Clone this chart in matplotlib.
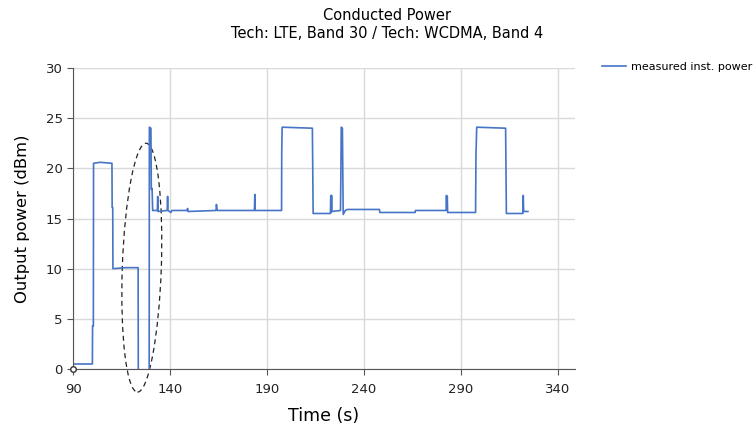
import matplotlib
matplotlib.use("Agg")
from matplotlib import pyplot as plt
from matplotlib.patches import Ellipse
from matplotlib.transforms import ScaledTranslation

# trace (time in s, power in dBm)
time_s = [90, 100.0, 100.1, 100.5, 100.6, 104, 110.1, 110.2, 110.5, 110.6, 117, 123.6,
          123.7, 129.3, 129.4, 130.2, 130.4, 130.8, 131.1, 133.5, 133.7, 133.9, 138.6,
          138.8, 139.0, 140.5, 141, 148.9, 149.1, 149.4, 163.8, 164.0, 164.4, 183.6,
          183.8, 184.0, 197.6, 197.7, 197.9, 213.5, 213.9, 222.8, 223.0, 223.2, 223.4,
          223.6, 228.0, 228.2, 228.4, 229.0, 229.4, 230.5, 231.5, 248.1, 248.3, 266.5,
          266.7, 282.5, 282.7, 282.9, 283.1, 283.3, 297.7, 297.9, 298.3, 313.2, 313.6,
          322.1, 322.3, 322.5, 324.7]
power_dbm = [0.5, 0.5, 4.3, 4.3, 20.5, 20.6, 20.5, 16.1, 16.1, 10.0, 10.1, 10.1,
             -2, -2, 24.1, 24.0, 17.9, 18.0, 15.8, 15.8, 17.2, 15.7, 15.8,
             17.2, 15.8, 15.6, 15.8, 15.8, 16.0, 15.7, 15.8, 16.4, 15.8, 15.8,
             17.4, 15.8, 15.8, 21.7, 24.1, 24.0, 15.5, 15.5, 17.3, 15.6, 17.3,
             15.7, 15.8, 19.2, 24.1, 24.0, 15.4, 15.8, 15.9, 15.9, 15.6, 15.6,
             15.8, 15.8, 17.3, 15.9, 17.2, 15.6, 15.6, 21.3, 24.1, 24.0, 15.5,
             15.5, 17.3, 15.7, 15.7]

x_ticks = [90, 140, 190, 240, 290, 340]
y_ticks = [0, 5, 10, 15, 20, 25, 30]

fig = plt.figure(figsize=(7.54, 4.28), dpi=100)
ax = fig.add_axes([73/754, 1-369/428, (575-73)/754, (369-68)/428])

ax.plot(time_s, power_dbm, color="#4674c6", lw=1.2, label="measured inst. power")
ax.set_xlim(90, 349)
ax.set_ylim(0, 30)
ax.set_xticks(x_ticks)
ax.set_yticks(y_ticks)
ax.grid(True, color="#d9d9d9", lw=1)
ax.set_axisbelow(True)
for s in ["top", "right"]:
    ax.spines[s].set_visible(False)
for s in ["left", "bottom"]:
    ax.spines[s].set_color("#555555")
ax.tick_params(length=4, color="#555555", labelsize=9.5, labelcolor="#222222")
ax.tick_params(axis="x", pad=6)

# dashed ellipse marking the gap (size in inches, centred on a data point, slightly tilted)
ell_tr = fig.dpi_scale_trans + ScaledTranslation(125.5, 10.1, ax.transData)
ax.add_patch(Ellipse((0, 0), 0.39, 2.49, angle=-2, fill=False, ls=(0, (4, 3)),
                     lw=0.9, color="#222222", clip_on=False, transform=ell_tr))
ax.plot([90], [0], marker="o", ms=4, mfc="white", mec="#333333", clip_on=False, zorder=5)

ax.set_xlabel("Time (s)", fontsize=12.5, labelpad=8)
ax.set_ylabel("Output power (dBm)", fontsize=11.8, labelpad=11)

fig.text(387/754, 1-15/428, "Conducted Power", ha="center", va="center", fontsize=10.5)
fig.text(387/754, 1-33/428, "Tech: LTE, Band 30 / Tech: WCDMA, Band 4", ha="center",
         va="center", fontsize=10.5)

ax.legend(loc="upper left", bbox_to_anchor=(1.045, 1.035), frameon=False, fontsize=8,
          handlelength=2.2, handletextpad=0.4, borderaxespad=0)

fig.savefig("out.png", dpi=100)
